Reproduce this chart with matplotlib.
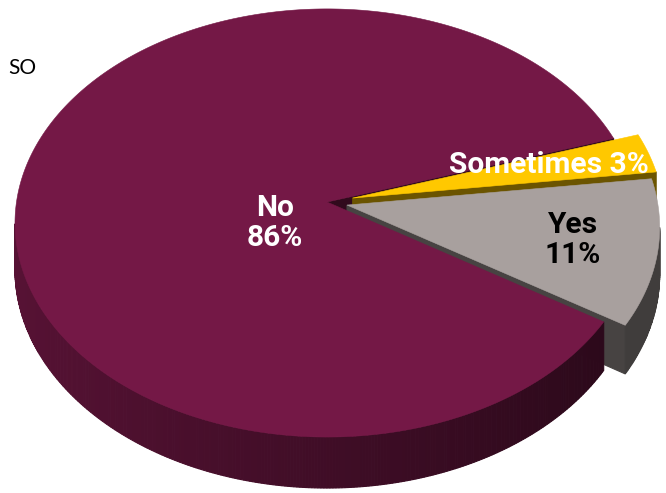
import numpy as np
import matplotlib.pyplot as plt
from matplotlib.patches import Polygon
from matplotlib.colors import to_rgb

# survey answers, drawn clockwise from the start angle
categories = ["No", "Sometimes", "Yes"]
shares = [86, 3, 11]
top_colors = ["#741846", "#ffc800", "#a8a09e"]
text_colors = ["white", "white", "black"]
explode = [0.0, 0.085, 0.066]
label_pos = [(275, 223), (549, 165), (573, 240)]
title = "SO"

# perspective projection of the unit disc onto the canvas (pixels)
CX, CY = 327.0, 202.0
RX, RY = 310.5, 212.0
K = 0.098          # perspective strength (camera sits at v = 1/K)
DEPTH = 46.0       # thickness of the pie
START = -32.4      # degrees, first slice begins here and runs clockwise


def disc_to_px(u, v, h=0.0):
    w = 1.0 - K * v
    return CX + RX * u / w, CY + (RY * v + DEPTH * h) / w


def shade(rgb, f):
    return tuple(np.clip(np.asarray(rgb) * f, 0, 1))


def facing(pu, pv, nu, nv):
    return (0.0 - pu) * nu + (1.0 / K - pv) * nv > 0


fig = plt.figure(figsize=(6.66, 4.93), dpi=100)
ax = fig.add_axes([0, 0, 1, 1])
ax.set_xlim(0, 666)
ax.set_ylim(493, 0)
ax.axis("off")

sides = []
tops = []
total = sum(shares)
theta = START
for cat, share, col, ex in zip(categories, shares, top_colors, explode):
    span = share / total * 360.0
    a, b = theta - span, theta
    theta -= span
    mid = np.radians((a + b) / 2)
    ou, ov = ex * np.cos(mid), -ex * np.sin(mid)
    angs = np.radians(np.linspace(a, b, max(int(span * 2), 6)))
    us = ou + np.cos(angs)
    vs = ov - np.sin(angs)
    base = to_rgb(col)

    tx, ty = disc_to_px(np.r_[ou, us], np.r_[ov, vs])
    tops.append((np.column_stack([tx, ty]), col))

    # curved outer wall, split into thin strips
    for i in range(len(angs) - 1):
        am = (angs[i] + angs[i + 1]) / 2
        nu, nv = np.cos(am), -np.sin(am)
        pu, pv = ou + nu, ov + nv
        if not facing(pu, pv, nu, nv):
            continue
        x, y = disc_to_px(np.array([us[i], us[i + 1], us[i + 1], us[i]]),
                          np.array([vs[i], vs[i + 1], vs[i + 1], vs[i]]),
                          np.array([0, 0, 1, 1]))
        f = max(0.38, 0.55 + 0.2 * np.cos(am - np.pi))
        sides.append((pv, np.column_stack([x, y]), shade(base, f)))

    # flat cut faces at both slice edges
    for edge, sgn in ((a, -1), (b, 1)):
        e = np.radians(edge)
        n_ang = e + sgn * np.pi / 2
        nu, nv = np.cos(n_ang), -np.sin(n_ang)
        if not facing(ou, ov, nu, nv):
            continue
        ru, rv = ou + np.cos(e), ov - np.sin(e)
        x, y = disc_to_px(np.array([ou, ru, ru, ou]),
                          np.array([ov, rv, rv, ov]),
                          np.array([0, 0, 1, 1]))
        sides.append((ov + 0.5 * (rv - ov), np.column_stack([x, y]),
                      shade(base, 0.42)))

for _, xy, c in sorted(sides, key=lambda s: s[0]):
    ax.add_patch(Polygon(xy, closed=True, facecolor=c, edgecolor=c, lw=0.8))
for xy, c in tops:
    ax.add_patch(Polygon(xy, closed=True, facecolor=c, edgecolor=c, lw=0.4))

label_font = ["Roboto", "DejaVu Sans"]
for cat, share, (lx, ly), tc in zip(categories, shares, label_pos, text_colors):
    sep = " " if cat == "Sometimes" else "\n"
    ax.text(lx, ly, f"{cat}{sep}{share}%", ha="center", va="center",
            fontsize=21.5, fontweight="bold", family=label_font, color=tc,
            linespacing=1.1)

ax.text(8, 68, title, ha="left", va="center", fontsize=15,
        family=["Lato", "DejaVu Sans"], color="black")

fig.savefig("out.png", dpi=100)
